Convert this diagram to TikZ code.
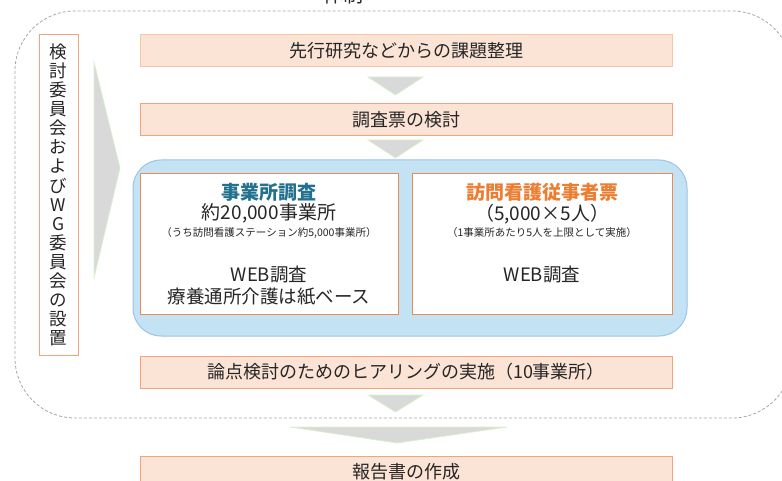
\documentclass[tikz,border=0pt]{standalone}
\usepackage{fontspec}
\setmainfont{Noto Sans CJK JP}
\definecolor{peach}{HTML}{FBE3D6}
\definecolor{peachline}{HTML}{F4A47A}
\definecolor{peachlite}{HTML}{F8C4A6}
\definecolor{orangeline}{HTML}{EE8A50}
\definecolor{bluefill}{HTML}{C3E3F4}
\definecolor{blueline}{HTML}{9DC3E6}
\definecolor{arrowgrey}{HTML}{D9D9D9}
\definecolor{arrowedge}{HTML}{D8F0CC}
\definecolor{dashgrey}{HTML}{A6A6A6}
\definecolor{txt}{HTML}{262626}
\definecolor{teal}{HTML}{21718F}
\definecolor{orangetxt}{HTML}{ED7D31}
\begin{document}
\begin{tikzpicture}[x=1pt,y=-1pt,
  stepbox/.style={draw=peachline,line width=1pt,fill=peach,minimum width=532pt,minimum height=32pt,inner sep=0pt,text=txt,font=\fontsize{18}{20}\selectfont},
  innerbox/.style={draw=orangeline,line width=1pt,fill=white,inner sep=0pt},
  downarrow/.style={fill=arrowgrey,draw=arrowedge,line width=0.8pt},
  big/.style={text=txt,font=\fontsize{18.5}{20}\selectfont,inner sep=0pt},
  small/.style={text=txt,font=\fontsize{10.5}{12}\selectfont,inner sep=0pt}]
\useasboundingbox (0,0) rectangle (782,481);
% title (cut at top)
\node[anchor=south,text=txt,font=\fontsize{20}{22}\selectfont,inner sep=0pt] (title) at (343,4) {体制};
% dashed outline
\draw[dashgrey,dashed,line width=0.8pt,dash pattern=on 3pt off 2pt,rounded corners=60pt] (15,11) rectangle (792,418);
% left box
\node[draw=peachline,line width=1pt,fill=white,minimum width=39pt,minimum height=321pt,inner sep=0pt] (left) at (58.5,195) {};
\node[text=txt,align=center,font=\fontsize{17.5}{19.1}\selectfont,inner sep=0pt] (lefttext) at (left.center) {検\\討\\委\\員\\会\\お\\よ\\び\\W\\G\\委\\員\\会\\の\\設\\置};
% right chevron
\draw[downarrow] (94,62) -- (120,168) -- (94,278) -- cycle;
% step boxes
\node[stepbox,draw=peachlite] (b1) at (406,51) {先行研究などからの課題整理};
\node[stepbox] (b2) at (406,120) {調査票の検討};
\node[stepbox] (b4) at (406,372) {論点検討のためのヒアリングの実施（10事業所）};
\node[stepbox] (b6) at (406,472) {報告書の作成};
% arrows between
\draw[downarrow] (368,77) -- (423,77) -- (395.5,95) -- cycle;
\draw[downarrow] (368,140) -- (423,140) -- (395.5,158) -- cycle;
\draw[downarrow] (368,395) -- (423,395) -- (395.5,412) -- cycle;
\draw[downarrow] (290,427) -- (507,427) -- (397,443) -- cycle;
% blue container
\draw[blueline,fill=bluefill,line width=1pt,rounded corners=28pt] (133,160) rectangle (687,336);
\node[innerbox,minimum width=258pt,minimum height=140pt] (ib1) at (269,244) {};
\node[innerbox,minimum width=260pt,minimum height=140pt] (ib2) at (542,244) {};
% left inner texts
\node[big,text=teal,font=\bfseries\fontsize{19}{20}\selectfont] (t1) at (269,192) {事業所調査};
\node[big,font=\fontsize{19}{20}\selectfont] (t2) at (269,213) {約20,000事業所};
\node[small] (t3) at (269,233) {（うち訪問看護ステーション約5,000事業所）};
\node[big] (t4) at (269,275) {WEB調査};
\node[big] (t5) at (269,297) {療養通所介護は紙ベース};
% right inner texts
\node[big,text=orangetxt,font=\bfseries\fontsize{19}{20}\selectfont] (r1) at (542,192) {訪問看護従事者票};
\node[big,font=\fontsize{19}{20}\selectfont] (r2) at (542,214) {（5,000×5人）};
\node[small] (r3) at (542,233) {（1事業所あたり5人を上限として実施）};
\node[big] (r4) at (542,275) {WEB調査};
\end{tikzpicture}
\end{document}
